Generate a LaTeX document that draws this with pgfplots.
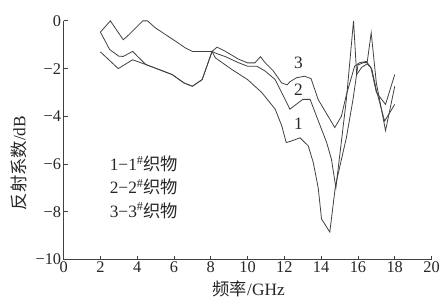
\documentclass[border=0pt]{standalone}
\usepackage{fontspec}
\setmainfont{Liberation Serif}
\newfontfamily\cjk{Noto Sans CJK SC}
\usepackage{pgfplots}
\pgfplotsset{compat=1.18}
\begin{document}
\begin{tikzpicture}
\begin{axis}[
  at={(0,0)}, anchor=south west,
  scale only axis, width=370bp, height=240bp,
  xmin=0, xmax=20, ymin=-10, ymax=0,
  axis lines*=left,
  axis line style={line width=0.8bp, black!75},
  tick align=inside,
  major tick length=4bp,
  tick style={line width=0.8bp, black!75},
  xtick={0,2,4,6,8,10,12,14,16,18,20},
  ytick={-10,-8,-6,-4,-2,0},
  yticklabels={−10,−8,−6,−4,−2,0},
  xticklabels={0,2,4,6,8,10,12,14,16,18,20},
  ticklabel style={font=\fontsize{16.5}{19}\selectfont, text=black!85},
  yticklabel style={xshift=1bp},
  xticklabel style={yshift=1bp},
  xlabel={{\cjk 频率}/GHz},
  ylabel={{\cjk 反射系数}/dB},
  label style={font=\fontsize{17.5}{20}\selectfont, text=black!85},
  xlabel style={at={(axis description cs:0.503,-0.121)}, anchor=center},
  ylabel style={at={(axis description cs:-0.122,0.404)}, anchor=center, rotate=0},
  clip=false,
]
% curve 3
\addplot[black!75, line width=0.8bp, mark=none] coordinates {(2.0,-0.47) (2.54,0) (3.24,-0.79) (3.48,-0.63) (4.3,0) (4.56,0) (5.0,-0.3) (5.55,-0.58) (6.1,-0.86) (6.63,-1.14) (7.0,-1.28) (8.07,-1.28) (8.34,-1.1) (8.8,-1.28) (9.5,-1.6) (10.0,-1.76) (10.4,-1.76) (10.7,-1.5) (10.96,-1.76) (11.4,-2.1) (11.85,-2.6) (12.15,-2.68) (12.3,-2.55) (12.67,-2.38) (13.1,-2.32) (13.45,-2.42) (13.84,-3.3) (14.38,-4.0) (14.74,-4.47) (15.1,-4.0) (15.37,-3.1) (15.82,-1.9) (16.1,-1.75) (16.45,-1.7) (16.7,-1.95) (17.0,-3.0) (17.5,-3.5) (18.0,-2.25)};
% curve 2
\addplot[black!75, line width=0.8bp, mark=none] coordinates {(2.0,-0.47) (2.5,-1.2) (3.0,-1.48) (3.24,-1.49) (3.75,-1.28) (4.1,-1.55) (4.47,-1.83) (5.19,-2.04) (5.9,-2.25) (6.54,-2.6) (7.0,-2.74) (7.53,-2.46) (8.07,-1.28) (8.25,-1.35) (8.8,-1.5) (9.5,-1.75) (10.0,-1.9) (10.5,-1.9) (10.95,-2.1) (11.5,-2.46) (11.95,-3.15) (12.3,-3.7) (12.76,-3.43) (13.0,-3.29) (13.4,-3.29) (13.8,-4.1) (14.3,-5.1) (14.56,-5.8) (14.8,-7.0) (15.37,-3.3) (15.76,0) (15.93,-2.25) (16.2,-1.95) (16.5,-1.8) (16.75,-2.0) (17.0,-2.9) (17.45,-4.2) (18.0,-3.5)};
% curve 1
\addplot[black!75, line width=0.8bp, mark=none] coordinates {(2.0,-1.3) (2.97,-2.0) (3.75,-1.63) (4.47,-1.83) (5.19,-2.04) (5.9,-2.25) (6.54,-2.6) (7.0,-2.74) (7.53,-2.46) (8.07,-1.28) (8.25,-1.55) (9.15,-2.04) (10.0,-2.46) (10.77,-3.0) (11.5,-3.7) (11.86,-4.4) (12.1,-5.1) (12.4,-5.03) (12.85,-4.9) (13.3,-5.24) (13.57,-5.93) (13.84,-7.0) (14.02,-8.3) (14.47,-8.85) (14.78,-6.9) (15.37,-4.9) (15.73,-3.3) (16.0,-1.85) (16.3,-1.75) (16.5,-1.75) (16.72,-0.5) (17.0,-2.6) (17.5,-4.6) (18.0,-2.74)};
\node[font=\fontsize{17.5}{20}\selectfont, text=black!85] at (axis cs:12.76,-1.76) {3};
\node[font=\fontsize{17.5}{20}\selectfont, text=black!85] at (axis cs:12.76,-2.875) {2};
\node[font=\fontsize{17.5}{20}\selectfont, text=black!85] at (axis cs:12.76,-4.33) {1};
\node[anchor=west, font=\fontsize{17.5}{20}\selectfont, text=black!85, inner sep=0pt] at (axis cs:2.5,-6.0) {1−1\textsuperscript{\#}{\cjk 织物}};
\node[anchor=west, font=\fontsize{17.5}{20}\selectfont, text=black!85, inner sep=0pt] at (axis cs:2.5,-6.97) {2−2\textsuperscript{\#}{\cjk 织物}};
\node[anchor=west, font=\fontsize{17.5}{20}\selectfont, text=black!85, inner sep=0pt] at (axis cs:2.5,-7.95) {3−3\textsuperscript{\#}{\cjk 织物}};
\end{axis}
\path (-64bp,-45bp) rectangle (379bp,261bp);
\end{tikzpicture}
\end{document}
